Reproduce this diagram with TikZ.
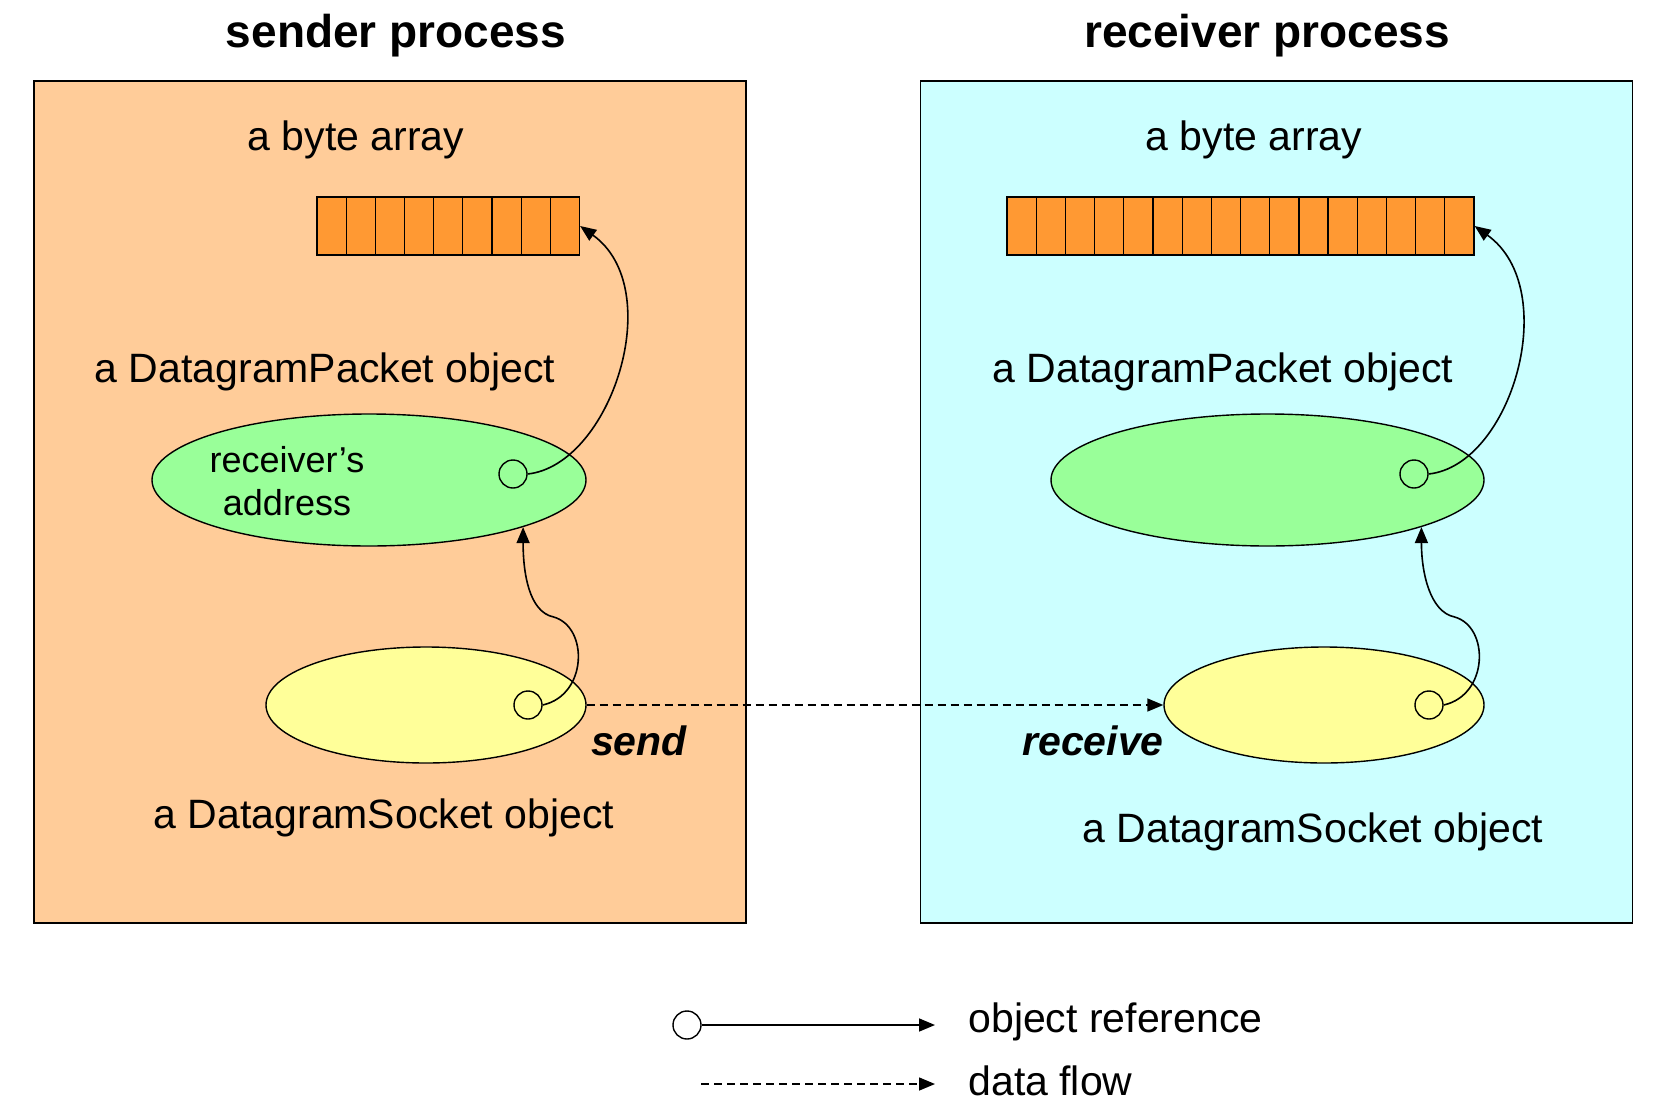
\documentclass[tikz,border=0pt]{standalone}
\usepackage{fontspec}
\setmainfont{Liberation Sans}
\usetikzlibrary{positioning,calc,shapes,arrows.meta}
\definecolor{senderbg}{HTML}{FFCC99}
\definecolor{receiverbg}{HTML}{CCFFFF}
\definecolor{bytefill}{HTML}{FF9933}
\definecolor{packetfill}{HTML}{99FF99}
\definecolor{socketfill}{HTML}{FFFF99}
\tikzset{
    udpdiag/.style={
        x=0.5pt, y=-0.5pt,
        % Stile per i processi (rettangolo)
        process/.style={draw, rectangle, line width=0.8pt,
                        minimum width=356pt, minimum height=421pt,
                        inner sep=0pt},
        % Stile per i testi
        title/.style={font=\fontsize{23}{27}\selectfont\bfseries, inner sep=0pt},
        txt/.style={font=\fontsize{20.5}{24}\selectfont, inner sep=0pt},
        % Stile per le celle dell'array (rettangolo)
        cell/.style={draw, rectangle, fill=bytefill, line width=0.6pt,
                     minimum width=14.6pt, minimum height=29pt,
                     inner sep=0pt},
        % Stile per gli oggetti (ellisse)
        packet/.style={draw, ellipse, fill=packetfill, line width=0.7pt,
                       minimum width=217pt, minimum height=66pt,
                       inner sep=0pt},
        socket/.style={draw, ellipse, fill=socketfill, line width=0.7pt,
                       minimum width=160pt, minimum height=58pt,
                       inner sep=0pt},
        % Stile per i riferimenti (cerchio)
        handle/.style={draw, circle, line width=0.7pt,
                       minimum size=14pt, inner sep=0pt},
        ref/.style={-{Triangle[length=8pt,width=6.5pt]}, line width=0.8pt},
        flow/.style={ref, dash pattern=on 4pt off 2.5pt}
    }
}
\begin{document}
\begin{tikzpicture}[udpdiag]
\path[fill=white, use as bounding box] (0,0) rectangle (1666,1114);
% processi
\node[process, fill=senderbg] (sproc) at (390,502) {};
\node[process, fill=receiverbg] (rproc) at (1276.5,502) {};
\node[title] (stitle) at (396,35.5) {sender process};
\node[title] (rtitle) at (1267,35.5) {receiver process};
% array di byte
\node[txt] (sbytes) at (356,139.5) {a byte array};
\node[txt] (rbytes) at (1254,139.5) {a byte array};
\foreach \i in {1,...,9}
    \node[cell] (sa\i) at ({317+29.17*(\i-0.5)},226) {};
\foreach \i in {1,...,16}
    \node[cell] (ra\i) at ({1007+29.19*(\i-0.5)},226) {};
% pacchetti
\node[txt] (spackt) at (325,371.5) {a DatagramPacket object};
\node[txt] (rpackt) at (1223,371.5) {a DatagramPacket object};
\node[packet] (sgp) at (369,480) {};
\node[packet, minimum width=216.5pt] (rgp) at (1267.5,480) {};
\node[txt, font=\fontsize{18}{21.25}\selectfont, align=center] (saddr) at (287,481) {receiver’s\\address};
\node[handle] (sgc) at (513,474) {};
\node[handle] (rgc) at (1414,474) {};
% socket
\node[socket] (syp) at (426,705) {};
\node[socket] (ryp) at (1324,705) {};
\node[handle] (syc) at (528,705) {};
\node[handle] (ryc) at (1429,705) {};
\node[txt] (ssockt) at (384,817.5) {a DatagramSocket object};
\node[txt] (rsockt) at (1313,831.5) {a DatagramSocket object};
\node[txt, font=\fontsize{20.5}{24}\selectfont\bfseries\itshape] (send) at (639,741) {send};
\node[txt, font=\fontsize{20.5}{24}\selectfont\bfseries\itshape] (recv) at (1093,741) {receive};
% riferimenti
\coordinate (sbend) at ([shift={(11,-88)}]syc.east);
\coordinate (rbend) at ([shift={(11,-88)}]ryc.east);
\draw[ref] (sgc.east) .. controls +(83,-9) and +(88,63) .. (sa9.east);
\draw[ref] (syc.east) .. controls +(45,-10) and +(35,10) .. (sbend)
    .. controls +(-25,-5) and +(0,45) .. (sgp.-17);
\draw[ref] (rgc.east) .. controls +(83,-9) and +(88,63) .. (ra16.east);
\draw[ref] (ryc.east) .. controls +(45,-10) and +(35,10) .. (rbend)
    .. controls +(-25,-5) and +(0,45) .. (rgp.-17);
% flusso dati
\draw[flow] (syp.east) -- (ryp.west);
% legenda
\node[handle] (lref) at (687,1025) {};
\coordinate (lrefend) at (935,1025);
\node[txt, anchor=west] (lreft) at (968,1021.5) {object reference};
\coordinate (lflow) at (701,1084);
\coordinate (lflowend) at (935,1084);
\node[txt, anchor=west] (lflowt) at (968,1080.5) {data flow};
\draw[ref] (lref.east) -- (lrefend);
\draw[flow] (lflow) -- (lflowend);
\end{tikzpicture}
\end{document}
